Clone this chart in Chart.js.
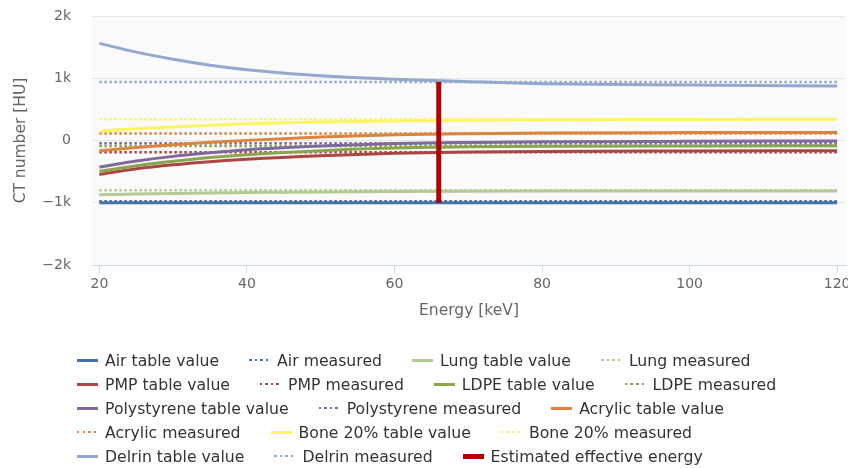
<!DOCTYPE html>
<html>
<head>
<meta charset="utf-8">
<script src="https://cdn.jsdelivr.net/npm/chart.js@4.4.0/dist/chart.umd.min.js"></script>
<style>
  html, body { margin: 0; padding: 0; background: #fff; }
  #wrap { position: relative; width: 848px; height: 468px; }
  #legend {
    position: absolute; left: 77px; top: 348px; width: 760px;
    display: flex; flex-wrap: wrap;
    font-family: "DejaVu Sans", sans-serif; font-size: 15.7px; color: #333;
  }
  .item { display: flex; align-items: center; height: 24px; margin-right: 30px; white-space: nowrap; }
  .sym { width: 21px; margin-right: 7px; }
</style>
</head>
<body>
<div id="wrap">
  <canvas id="myChart" width="848" height="468"></canvas>
  <div id="legend"></div>
</div>
<script>
// energies (keV) where the table curves were read
const energies = [20, 25, 30, 35, 40, 50, 60, 70, 80, 100, 120];

const materials = ['Air', 'Lung', 'PMP', 'LDPE', 'Polystyrene', 'Acrylic', 'Bone 20%', 'Delrin'];
const colors = ['#4572a7', '#b5ca92', '#aa4643', '#89a54e', '#80699b', '#db843d', '#fff263', '#92a8cd'];

// table values (HU) at each energy
const airTable = [-1000, -1000, -1000, -1000, -1000, -1000, -1000, -1000, -1000, -1000, -1000];
const lungTable = [-872, -860, -850, -842, -836, -826, -819, -815, -813, -811, -810];
const pmpTable = [-545, -455, -390, -340, -300, -243, -205, -185, -175, -168, -165];
const ldpeTable = [-495, -405, -335, -275, -228, -165, -122, -102, -93, -87, -85];
const polystyreneTable = [-425, -330, -255, -198, -150, -90, -50, -32, -22, -13, -8];
const acrylicTable = [-165, -112, -68, -30, 2, 55, 92, 110, 120, 127, 130];
const boneTable = [150, 188, 218, 245, 268, 298, 315, 325, 332, 338, 342];
const delrinTable = [1560, 1420, 1305, 1210, 1138, 1040, 985, 945, 912, 890, 876];

// measured CT numbers (HU), one per material
const measured = [-975, -800, -190, -88, -45, 112, 340, 940];

// estimated effective energy marker
const effEnergy = 66;
const effRange = [-1000, 940];

const xTickValues = [20, 40, 60, 80, 100, 120];
const yTickValues = [-2000, -1000, 0, 1000, 2000];
const yTickLabels = ['\u22122k', '\u22121k', '0', '1k', '2k'];

const tables = [airTable, lungTable, pmpTable, ldpeTable, polystyreneTable, acrylicTable, boneTable, delrinTable];

document.addEventListener("DOMContentLoaded", function () {
    const ctx = document.getElementById("myChart").getContext('2d');
    const fontFamily = '"DejaVu Sans", sans-serif';

    const datasets = [];
    materials.forEach((m, i) => {
        datasets.push({
            label: m + ' table value',
            data: energies.map((e, k) => ({ x: e, y: tables[i][k] })),
            borderColor: colors[i],
            backgroundColor: colors[i],
            borderWidth: 3,
            cubicInterpolationMode: 'monotone'
        });
        datasets.push({
            label: m + ' measured',
            data: [{ x: energies[0], y: measured[i] }, { x: energies[energies.length - 1], y: measured[i] }],
            borderColor: colors[i],
            backgroundColor: colors[i],
            borderWidth: 2.5,
            borderDash: [2.5, 2.5]
        });
    });
    datasets.push({
        label: 'Estimated effective energy',
        data: effRange.map(v => ({ x: effEnergy, y: v })),
        borderColor: '#b00000',
        backgroundColor: '#b00000',
        borderWidth: 5
    });
    // later series drawn on top
    datasets.forEach((d, i) => { d.order = datasets.length - i; d.pointRadius = 0; d.fill = false; });

    const plotBg = {
        id: 'plotBg',
        beforeDraw(chart) {
            const a = chart.chartArea;
            chart.ctx.save();
            chart.ctx.fillStyle = '#fafafa';
            chart.ctx.fillRect(a.left, a.top, a.right - a.left, a.bottom - a.top);
            chart.ctx.restore();
        }
    };

    new Chart(ctx, {
        type: 'line',
        data: { datasets: datasets },
        plugins: [plotBg],
        options: {
            responsive: false,
            animation: false,
            devicePixelRatio: 1,
            layout: { padding: { top: 16, right: 2, bottom: 147, left: 0 } },
            plugins: {
                legend: { display: false },
                tooltip: { enabled: false }
            },
            scales: {
                x: {
                    type: 'linear',
                    min: 19,
                    max: 121.2,
                    afterBuildTicks: s => { s.ticks = xTickValues.map(v => ({ value: v })); },
                    afterFit: s => { s.height = 56; s.paddingLeft = 0; s.paddingRight = 0; },
                    grid: { drawOnChartArea: false, tickLength: 8, tickColor: '#ccd6eb' },
                    border: { color: '#ccd6eb' },
                    ticks: { color: '#666', font: { family: fontFamily, size: 14 }, padding: 3, maxRotation: 0 },
                    title: {
                        display: true, text: 'Energy [keV]', color: '#666',
                        font: { family: fontFamily, size: 15.5 }, padding: { top: 0, bottom: 1 }
                    }
                },
                y: {
                    min: -2000,
                    max: 2000,
                    afterBuildTicks: s => { s.ticks = yTickValues.map(v => ({ value: v })); },
                    afterFit: s => { s.width = 92; s.paddingTop = 0; s.paddingBottom = 0; },
                    grid: { color: '#e6e6e6', drawTicks: false },
                    border: { display: false },
                    ticks: {
                        color: '#666', font: { family: fontFamily, size: 14 }, padding: 21,
                        callback: v => yTickLabels[yTickValues.indexOf(v)]
                    },
                    title: {
                        display: true, text: 'CT number [HU]', color: '#666',
                        font: { family: fontFamily, size: 15.5 }, padding: { top: 12, bottom: 0 }
                    }
                }
            }
        }
    });

    // html legend, rows left aligned like the original
    const legend = document.getElementById("legend");
    datasets.forEach(d => {
        const item = document.createElement('div');
        item.className = 'item';
        const sym = document.createElement('span');
        sym.className = 'sym';
        if (d.borderDash) {
            sym.style.height = '2px';
            sym.style.background = 'repeating-linear-gradient(to right, ' + d.borderColor + ' 0 2.5px, transparent 2.5px 5.5px)';
        } else {
            sym.style.height = (d.borderWidth === 5 ? 5 : 3) + 'px';
            sym.style.background = d.borderColor;
        }
        const txt = document.createElement('span');
        txt.textContent = d.label;
        item.appendChild(sym);
        item.appendChild(txt);
        legend.appendChild(item);
    });
});
</script>
</body>
</html>
